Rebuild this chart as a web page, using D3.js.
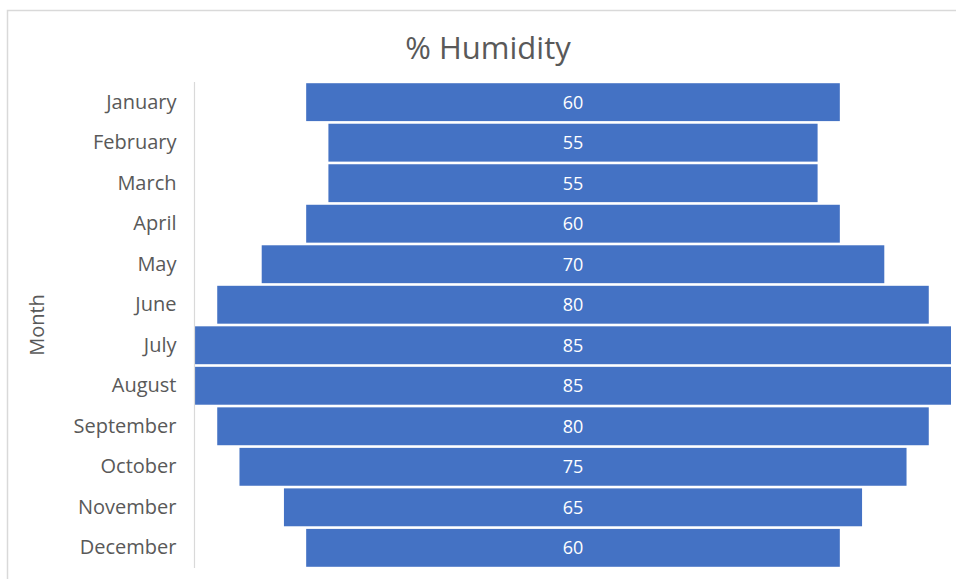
<!DOCTYPE html>
<html>
<head>
<meta charset="utf-8">
<script src="https://cdn.jsdelivr.net/npm/d3@7"></script>
<style>
  html, body { margin: 0; padding: 0; background: #fff; }
  svg { display: block; }
  text { font-family: "Open Sans", Lato, "Liberation Sans", sans-serif; }
</style>
</head>
<body>
<svg id="chart" width="956" height="579"></svg>
<script>
const months = ["January","February","March","April","May","June","July","August","September","October","November","December"];
const humidity = [60,55,55,60,70,80,85,85,80,75,65,60];
const chartTitle = "% Humidity";
const axisTitle = "Month";

const svg = d3.select("#chart");
const W = 956, H = 579;

// chart border
svg.append("rect")
  .attr("x", 7.5).attr("y", 10.5)
  .attr("width", W + 10).attr("height", H + 10)
  .attr("fill", "#fff").attr("stroke", "#d9d9d9").attr("stroke-width", 1.5);

const maxV = d3.max(humidity);
const x = d3.scaleLinear().domain([-maxV / 2, maxV / 2]).range([195, 951]);
const y = d3.scaleBand().domain(months).range([82, 568]).paddingInner(0.065).paddingOuter(0.03);

// bars
svg.append("g").selectAll("rect")
  .data(months)
  .join("rect")
  .attr("x", (m, i) => x(-humidity[i] / 2))
  .attr("y", m => y(m))
  .attr("width", (m, i) => x(humidity[i] / 2) - x(-humidity[i] / 2))
  .attr("height", y.bandwidth())
  .attr("fill", "#4472C4");

// value labels
svg.append("g").selectAll("text")
  .data(months)
  .join("text")
  .attr("x", x(0))
  .attr("y", m => y(m) + y.bandwidth() / 2)
  .attr("dy", "0.36em")
  .attr("text-anchor", "middle")
  .attr("fill", "#ffffff")
  .style("font-size", "18px")
  .text((m, i) => humidity[i]);

// left axis
const yAxis = d3.axisLeft(y).tickSize(0).tickPadding(18);
const ga = svg.append("g").attr("transform", "translate(194.5,0)").call(yAxis);
ga.select(".domain").attr("stroke", "#d9d9d9").attr("stroke-width", 1.2).attr("d", "M0,82V568");
ga.selectAll("text").attr("fill", "#595959").style("font-size", "20px")
  .style("font-family", "\"Open Sans\", Lato, sans-serif");

// axis title
svg.append("text")
  .attr("transform", "translate(44,325) rotate(-90)")
  .attr("text-anchor", "middle")
  .attr("fill", "#595959")
  .style("font-size", "20px")
  .text(axisTitle);

// chart title
svg.append("text")
  .attr("x", 488).attr("y", 59)
  .attr("text-anchor", "middle")
  .attr("fill", "#595959")
  .style("font-size", "31px")
  .text(chartTitle);
</script>
</body>
</html>
